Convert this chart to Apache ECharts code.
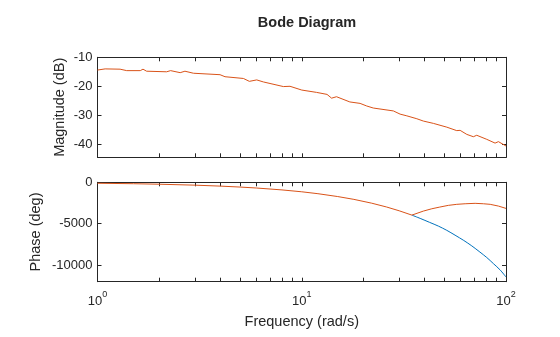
<!DOCTYPE html>
<html><head><meta charset="utf-8">
<script src="https://cdn.jsdelivr.net/npm/echarts@6/dist/echarts.min.js"></script>
<style>html,body{margin:0;padding:0;background:#fff}#c{width:560px;height:337px}</style>
</head><body><div id="c"></div>
<script>
const titleText = 'Bode Diagram';
const magName = 'Magnitude (dB)';
const phaseName = 'Phase (deg)';
const freqName = 'Frequency (rad/s)';

// Magnitude (both systems coincide; orange drawn on top)
const magFreq = [1.00,1.09,1.29,1.39,1.62,1.67,1.74,2.18,2.28,2.54,2.68,2.95,3.98,4.21,5.18,5.54,6.02,6.49,8.13,8.76,10.0,11.8,13.3,14.0,14.8,17.2,19.3,20.8,22.4,28.1,30.3,32.7,36.6,39.4,44.1,51.3,57.4,59.6,64.3,69.2,71.9,80.5,88.4,91.8,100];
const magDb = [-14.4,-14.0,-14.1,-14.6,-14.6,-14.1,-14.8,-15.0,-14.6,-15.3,-14.8,-15.5,-16.0,-16.7,-17.3,-18.3,-17.8,-18.5,-20.1,-20.0,-21.3,-22.1,-22.8,-24.1,-23.6,-25.4,-25.9,-26.8,-27.5,-28.5,-29.6,-30.2,-31.2,-32.0,-32.8,-34.1,-35.3,-35.2,-36.6,-37.4,-36.9,-38.3,-39.6,-39.1,-40.6];

// Phase: shared part up to the branch point
const phaseFreqCommon = [1,1.5,2,3,4,5,6,8,10,12,15,18,22,26,30,34.6];
const phaseCommon = [-115,-170,-230,-345,-460,-575,-690,-920,-1145,-1375,-1720,-2060,-2520,-2980,-3440,-3960];
// Blue branch after the split (starts at the branch point)
const phaseFreqBlue = [34.6,38.0,42.3,46.7,51.3,56.3,62.1,68.0,74.5,80.5,86.8,93.6,100];
const phaseBlue = [-3960,-4358,-4840,-5291,-5800,-6380,-7020,-7676,-8420,-9080,-9820,-10580,-11430];
// Orange branch after the split
const phaseFreqOrange = [39.4,43.3,47.4,52.2,57.4,63.1,70.6,77.5,83.7,91.8,100];
const phaseOrange = [-3475,-3196,-2990,-2785,-2660,-2590,-2540,-2590,-2660,-2870,-3150];

const xMajorTicks = [1,10,100];
const xAllTicks = [1,2,3,4,5,6,7,8,9,10,20,30,40,50,60,70,80,90,100];
const magTicks = [-40,-30,-20,-10];
const phaseTicks = [-10000,-5000,0];

const BLUE = '#0072BD', ORANGE = '#D95319', INK = '#262626';
const FONT = "'Liberation Sans', Arial, Helvetica, sans-serif";

function pairs(xs, ys){ return xs.map((x,i)=>[x, ys[i]]); }

const chart = echarts.init(document.getElementById('c'), null, {renderer:'canvas'});

function xAx(grid, pos, labels){
  return {
    type:'log', logBase:10, min:1, max:100, gridIndex:grid, position:pos,
    axisLine:{show:true, onZero:false, lineStyle:{color:INK, width:1}},
    axisTick:{show:true, inside:true, length:4, customValues:xAllTicks, lineStyle:{color:INK, width:1}},
    minorTick:{show:false}, splitLine:{show:false},
    axisLabel: labels ? {
      show:true, customValues:xMajorTicks, margin:8, color:INK, fontFamily:FONT,
      formatter: v => '{b|10}{s|' + Math.round(Math.log10(v)) + '}',
      rich:{ b:{fontSize:13, lineHeight:18, verticalAlign:'bottom', color:INK, fontFamily:FONT},
             s:{fontSize:9, lineHeight:8, verticalAlign:'top', color:INK, fontFamily:FONT} }
    } : {show:false},
    name: labels ? freqName : '', nameLocation:'middle', nameGap:33, nameMoveOverlap:false,
    nameTextStyle:{fontSize:14.5, color:INK, fontFamily:FONT}
  };
}
function yAx(grid, pos, min, max, ticks, name, gap){
  const left = pos === 'left';
  return {
    type:'value', min:min, max:max, gridIndex:grid, position:pos,
    axisLine:{show:true, onZero:false, lineStyle:{color:INK, width:1}},
    axisTick:{show:true, inside:true, length:4, customValues:ticks, lineStyle:{color:INK, width:1}},
    splitLine:{show:false},
    axisLabel: left ? {show:true, customValues:ticks, margin:5, fontSize:13, color:INK, fontFamily:FONT,
      formatter: v => String(v)} : {show:false},
    name: left ? name : '', nameLocation:'middle', nameGap:gap || 29, nameMoveOverlap:false,
    nameTextStyle:{fontSize:14.5, color:INK, fontFamily:FONT}
  };
}

const lineBase = {type:'line', symbol:'none', showSymbol:false, animation:false, silent:true};

chart.setOption({
  animation:false,
  backgroundColor:'#fff',
  title:{text:titleText, left:302, top:10, textAlign:'center',
    textStyle:{fontSize:14.5, fontWeight:'bold', color:INK, fontFamily:FONT}},
  grid:[
    {left:97.5, top:57.3, width:408.5, height:100, outerBoundsMode:'none', containLabel:false},
    {left:97.5, top:182.3, width:408.5, height:99.4, outerBoundsMode:'none', containLabel:false}
  ],
  xAxis:[ xAx(0,'bottom',false), xAx(0,'top',false), xAx(1,'bottom',true), xAx(1,'top',false) ],
  yAxis:[
    yAx(0,'left',-44.5,-10,magTicks,magName,30), yAx(0,'right',-44.5,-10,magTicks,''),
    yAx(1,'left',-12000,0,phaseTicks,phaseName,54), yAx(1,'right',-12000,0,phaseTicks,'')
  ],
  series:[
    Object.assign({}, lineBase, {xAxisIndex:0, yAxisIndex:0, data:pairs(magFreq, magDb), lineStyle:{color:ORANGE, width:1}}),
    Object.assign({}, lineBase, {xAxisIndex:2, yAxisIndex:2, smooth:0.3,
      data:pairs(phaseFreqBlue, phaseBlue), lineStyle:{color:BLUE, width:1}}),
    Object.assign({}, lineBase, {xAxisIndex:2, yAxisIndex:2,
      data:pairs(phaseFreqCommon.concat(phaseFreqOrange), phaseCommon.concat(phaseOrange)), lineStyle:{color:ORANGE, width:1}})
  ]
});
</script></body></html>
